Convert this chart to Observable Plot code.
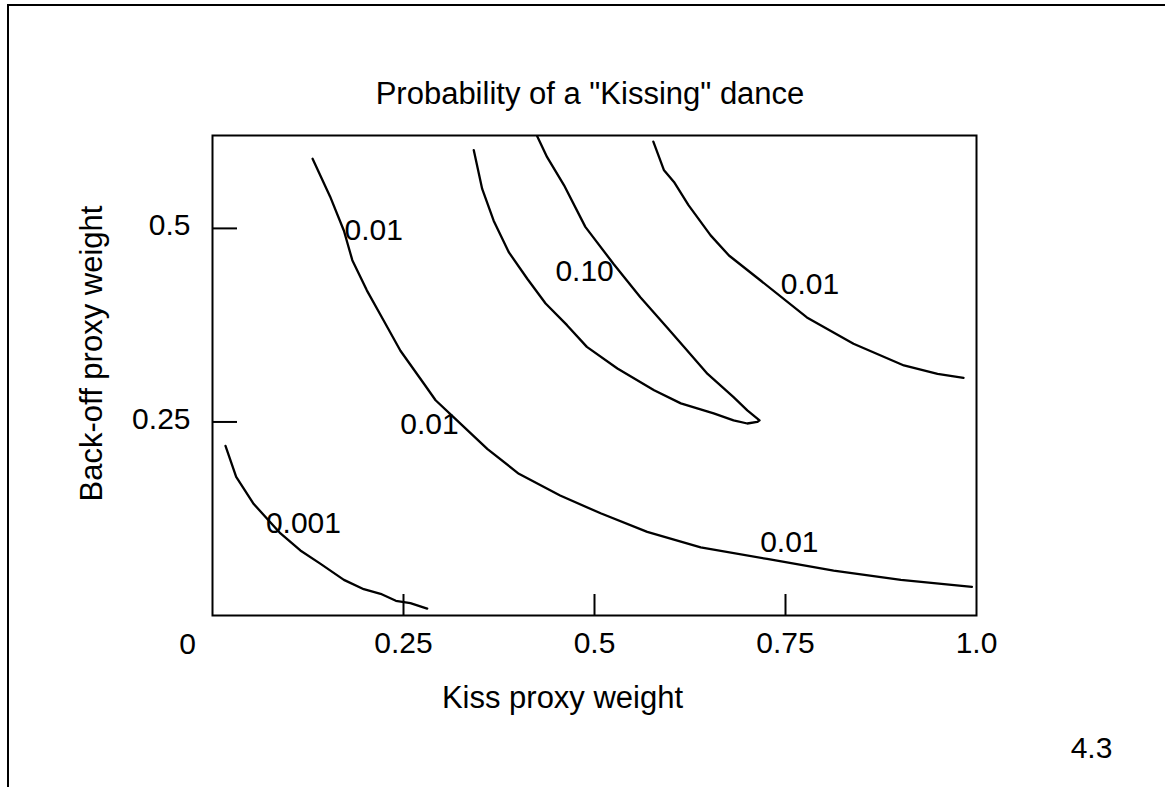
<!DOCTYPE html>
<html>
<head>
<meta charset="utf-8">
<script src="https://cdn.jsdelivr.net/npm/d3@7"></script>
<script src="https://cdn.jsdelivr.net/npm/@observablehq/plot@0.6"></script>
<style>
  html, body { margin: 0; padding: 0; background: #fff; }
  #wrap { position: relative; width: 1165px; height: 787px; overflow: hidden; background: #fff;
          font-family: "Liberation Sans", Arial, sans-serif; color: #000; }
  #border { position: absolute; left: 7px; top: 4px; width: 1200px; height: 800px;
            border-top: 2px solid #000; border-left: 2px solid #000; pointer-events: none; }
  #title { box-sizing: border-box; height: 120px; padding-top: 79px; padding-left: 15px;
           font-size: 31px; line-height: 30px; text-align: center; white-space: nowrap; }
  #chart svg { display: block; }
</style>
</head>
<body>
<div id="wrap">
  <div id="border"></div>
  <div id="title">Probability of a "Kissing" dance</div>
  <div id="chart"></div>
</div>
<script>
// ---- data ----
const titleText = 'Probability of a "Kissing" dance';
const xAxisTitle = "Kiss proxy weight";
const yAxisTitle = "Back-off proxy weight";
const pageNumber = "4.3";

const xTickValues = [0.25, 0.5, 0.75];
const xTickLabelValues = [0.25, 0.5, 0.75, 1.0];
const xTickLabels = ["0.25", "0.5", "0.75", "1.0"];
const yTickValues = [0.25, 0.5];
const yTickLabels = ["0.25", "0.5"];
const originLabel = "0";

// contour p = 0.001 (lower left)
const c001X = [0.017, 0.031, 0.054, 0.089, 0.115, 0.141, 0.172, 0.198, 0.220, 0.240, 0.259, 0.281];
const c001Y = [0.219, 0.179, 0.144, 0.106, 0.084, 0.067, 0.046, 0.034, 0.028, 0.019, 0.016, 0.009];

// contour p = 0.01 (long middle curve)
const c01aX = [0.131, 0.154, 0.172, 0.183, 0.202, 0.224, 0.246, 0.277, 0.292, 0.320, 0.360, 0.401, 0.455, 0.508, 0.569, 0.639, 0.726, 0.813, 0.901, 0.994];
const c01aY = [0.590, 0.541, 0.497, 0.459, 0.420, 0.381, 0.342, 0.299, 0.278, 0.252, 0.215, 0.183, 0.155, 0.132, 0.108, 0.088, 0.073, 0.058, 0.046, 0.037];

// contour p = 0.10 (closed loop, both branches)
const c10X = [0.342, 0.353, 0.368, 0.388, 0.412, 0.436, 0.464, 0.490, 0.530, 0.578, 0.613, 0.656, 0.682, 0.700, 0.713,
              0.716, 0.700, 0.682, 0.648, 0.617, 0.595, 0.560, 0.525, 0.488, 0.460, 0.438, 0.425];
const c10Y = [0.601, 0.551, 0.510, 0.469, 0.435, 0.403, 0.375, 0.347, 0.319, 0.291, 0.274, 0.261, 0.252, 0.248, 0.250,
              0.252, 0.265, 0.282, 0.312, 0.347, 0.372, 0.411, 0.454, 0.502, 0.556, 0.592, 0.619];

// contour p = 0.01 (upper right)
const c01bX = [0.577, 0.591, 0.604, 0.623, 0.652, 0.676, 0.717, 0.778, 0.839, 0.905, 0.949, 0.983];
const c01bY = [0.612, 0.575, 0.560, 0.530, 0.491, 0.465, 0.433, 0.385, 0.351, 0.323, 0.312, 0.307];

// contour labels
const labelText = ["0.001", "0.01", "0.01", "0.01", "0.10", "0.01"];
const labelX    = [0.119, 0.211, 0.284, 0.755, 0.487, 0.782];
const labelY    = [0.119, 0.497, 0.247, 0.095, 0.444, 0.428];

// ---- build tables ----
const curves = [
  {id: "p001", xs: c001X, ys: c001Y},
  {id: "p01a", xs: c01aX, ys: c01aY},
  {id: "p10",  xs: c10X,  ys: c10Y},
  {id: "p01b", xs: c01bX, ys: c01bY}
].flatMap(c => c.xs.map((x, i) => ({id: c.id, x, y: c.ys[i]})));

const labels = labelText.map((t, i) => ({text: t, x: labelX[i], y: labelY[i]}));

const FONT = "Liberation Sans, Arial, sans-serif";

const chart = Plot.plot({
  width: 1165,
  height: 667,
  marginTop: 15,
  marginBottom: 172,
  marginLeft: 212,
  marginRight: 189,
  style: {fontFamily: FONT, fontSize: "30px", background: "#fff", color: "#000"},
  x: {domain: [0, 1], label: null},
  y: {domain: [0, 0.62], label: null},
  marks: [
    Plot.frame({stroke: "#000", strokeWidth: 2}),
    Plot.tickX(xTickValues, {x: d => d, insetTop: 459, stroke: "#000", strokeWidth: 2}),
    Plot.tickY(yTickValues, {y: d => d, insetRight: 739, stroke: "#000", strokeWidth: 2}),
    Plot.axisX(xTickLabelValues, {
      tickSize: 0, tickPadding: 16, fontSize: 30, label: null,
      tickFormat: d => xTickLabels[xTickLabelValues.indexOf(d)]
    }),
    Plot.axisY(yTickValues, {
      tickSize: 0, tickPadding: 22, fontSize: 30, label: null, dy: -3,
      tickFormat: d => yTickLabels[yTickValues.indexOf(d)]
    }),
    Plot.text([originLabel], {x: () => 0, y: () => 0, text: d => d, dx: -25, dy: 38, lineAnchor: "bottom", fontSize: 30, fill: "#000"}),
    Plot.line(curves, {x: "x", y: "y", z: "id", stroke: "#000", strokeWidth: 2.3, curve: "linear", strokeLinejoin: "round"}),
    Plot.text(labels, {x: "x", y: "y", text: "text", fontSize: 30, fill: "#000", lineAnchor: "middle"}),
    Plot.text([xAxisTitle], {frameAnchor: "bottom", text: d => d, textAnchor: "middle", dx: -32, dy: 92, lineAnchor: "bottom", fontSize: 31, fill: "#000"}),
    Plot.text([yAxisTitle], {frameAnchor: "left", text: d => d, textAnchor: "middle", rotate: -90, dx: -120, dy: -22, lineAnchor: "middle", fontSize: 31, fill: "#000"}),
    Plot.text([pageNumber], {frameAnchor: "bottom-right", text: d => d, textAnchor: "middle", dx: 115, dy: 142, lineAnchor: "bottom", fontSize: 30, fill: "#000"})
  ]
});
document.getElementById("chart").appendChild(chart);
</script>
</body>
</html>
